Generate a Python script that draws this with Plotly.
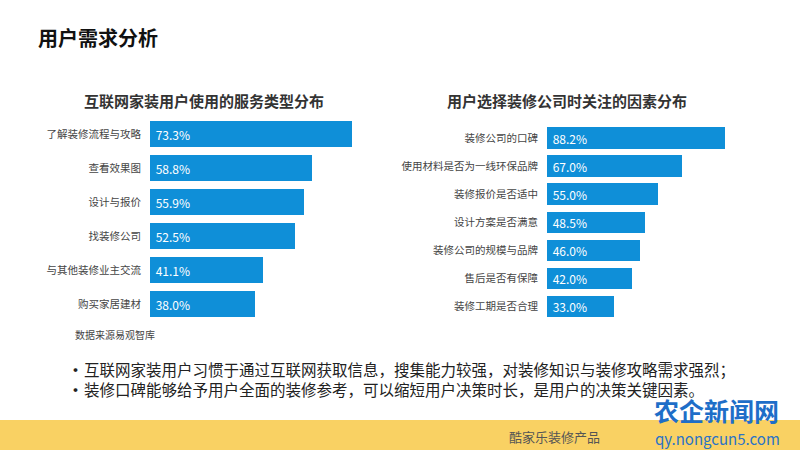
import plotly.graph_objects as go

# ---- data ----
left_title = "互联网家装用户使用的服务类型分布"
left_cats = ["了解装修流程与攻略", "查看效果图", "设计与报价", "找装修公司", "与其他装修业主交流", "购买家居建材"]
left_vals = [73.3, 58.8, 55.9, 52.5, 41.1, 38.0]

right_title = "用户选择装修公司时关注的因素分布"
right_cats = ["装修公司的口碑", "使用材料是否为一线环保品牌", "装修报价是否适中", "设计方案是否满意",
              "装修公司的规模与品牌", "售后是否有保障", "装修工期是否合理"]
right_vals = [88.2, 67.0, 55.0, 48.5, 46.0, 42.0, 33.0]

page_title = "用户需求分析"
source_note = "数据来源易观智库"
bullets = ["互联网家装用户习惯于通过互联网获取信息，搜集能力较强，对装修知识与装修攻略需求强烈；",
           "装修口碑能够给予用户全面的装修参考，可以缩短用户决策时长，是用户的决策关键因素。"]
footer_text = "酷家乐装修产品"

W, H = 800, 450
BLUE = "#0F8FD8"
FONT = "Noto Sans CJK SC"

def px(x):
    return x / W

def py(y):
    return 1 - y / H

fig = go.Figure()

fig.add_trace(go.Bar(
    x=left_vals, y=left_cats, orientation="h", xaxis="x", yaxis="y",
    marker=dict(color=BLUE, line=dict(width=0)), width=0.76,
    text=[f" {v:.1f}%" for v in left_vals], textposition="inside",
    insidetextanchor="start", constraintext="none",
    textfont=dict(color="white", size=12, family=FONT), hoverinfo="skip",
))
fig.add_trace(go.Bar(
    x=right_vals, y=right_cats, orientation="h", xaxis="x2", yaxis="y2",
    marker=dict(color=BLUE, line=dict(width=0)), width=0.77,
    text=[f" {v:.1f}%" for v in right_vals], textposition="inside",
    insidetextanchor="start", constraintext="none",
    textfont=dict(color="white", size=12, family=FONT), hoverinfo="skip",
))

xcommon = dict(showgrid=False, zeroline=False, showline=False, showticklabels=False, fixedrange=True)
ycommon = dict(showgrid=False, zeroline=False, showline=False, type="category",
               ticks="outside", ticklen=6, tickcolor="rgba(0,0,0,0)",
               tickfont=dict(size=10.5, color="#444", family=FONT))

fig.update_layout(
    width=W, height=H, margin=dict(l=0, r=0, t=0, b=0),
    paper_bgcolor="white", plot_bgcolor="rgba(0,0,0,0)",
    showlegend=False, bargap=0,
    font=dict(family=FONT),
    xaxis=dict(domain=[px(150), px(150 + 80 * 2.756)], range=[0, 80], anchor="y", **xcommon),
    yaxis=dict(domain=[py(321), py(117)], range=[len(left_cats) - 0.5, -0.5], anchor="x",
               categoryorder="array", categoryarray=left_cats, **ycommon),
    xaxis2=dict(domain=[px(547), px(547 + 100 * 2.018)], range=[0, 100], anchor="y2", **xcommon),
    yaxis2=dict(domain=[py(320.7), py(124)], range=[len(right_cats) - 0.5, -0.5], anchor="x2",
                categoryorder="array", categoryarray=right_cats, **ycommon),
)

# footer band
fig.add_shape(type="rect", xref="paper", yref="paper", x0=0, x1=1, y0=0, y1=py(420),
              fillcolor="#F9D163", line=dict(width=0), layer="below")

ann = []
def add_text(text, x, y, size, color, bold=False, xanchor="left", family=FONT, align="left"):
    t = f"<b>{text}</b>" if bold else text
    ann.append(dict(text=t, x=px(x), y=py(y), xref="paper", yref="paper",
                    xanchor=xanchor, yanchor="middle", showarrow=False, align=align,
                    font=dict(size=size, color=color, family=family)))

add_text(page_title, 36, 38, 20, "#111111", bold=True)
add_text(left_title, 204, 100, 15, "#333333", bold=True, xanchor="center")
add_text(right_title, 567, 100, 15, "#333333", bold=True, xanchor="center")
add_text(source_note, 73, 334, 10, "#444444")
add_text("<br>".join("<b>•</b>" for _ in bullets), 75, 379, 15, "#222222", xanchor="center", align="center")
add_text("<br>".join(bullets), 82, 379, 15.5, "#222222")
add_text(footer_text, 507, 436, 13, "#555555")
add_text("农企新闻网", 652, 410, 25, "#1E6EC8", bold=True)
add_text("qy.nongcun5.com", 653, 438, 15, "#2A73C6")

fig.update_layout(annotations=ann)

fig.write_html("out.html", config={"displayModeBar": False},
               post_script="document.body.style.margin='0';document.body.style.overflow='hidden';")
